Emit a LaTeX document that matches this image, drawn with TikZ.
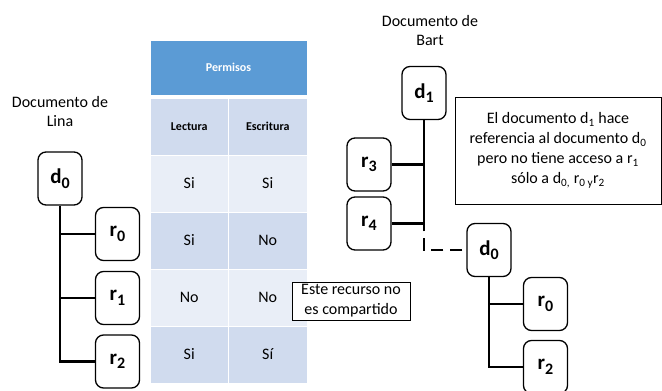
\documentclass[tikz,border=0pt]{standalone}
\usepackage{fontspec}
\setmainfont{Carlito}
\usetikzlibrary{positioning}
\definecolor{head}{HTML}{5B9BD5}
\definecolor{bandA}{HTML}{D0DBEE}
\definecolor{bandB}{HTML}{E9EEF7}

\begin{document}
\begin{tikzpicture}[x=1pt,y=-1pt]
\tikzset{doc/.style={draw,rounded corners=8pt,line width=1.3pt,minimum width=44pt,minimum height=53pt,inner sep=0pt,font=\fontsize{21}{24}\selectfont\bfseries},
	tree/.style={line width=2.6pt},
	cell/.style={draw=white,line width=1pt,minimum width=78.5pt,minimum height=57pt,inner sep=0pt},
	hdr/.style={font=\fontsize{12}{14}\selectfont\bfseries},
	val/.style={font=\fontsize{16}{19}\selectfont},
	note/.style={draw,fill=white,line width=0.8pt,align=center,inner sep=0pt,font=\fontsize{16}{20}\selectfont}}
\def\sb#1#2{#1\textsubscript{#2}}
\def\lbl#1#2{#1\raisebox{-4.5pt}{\fontsize{16}{16}\selectfont#2}}
\useasboundingbox(0,0)rectangle(662,391);

\node[cell,fill=head,minimum width=157pt,minimum height=55pt,text=white,hdr](perm) at (228.5,67.5) {Permisos};
\foreach \i/\a/\b/\c/\f in {1/Lectura/Escritura/bandA/hdr,2/Si/Si/bandB/val,3/Si/No/bandA/val,4/No/No/bandB/val,5/Si/Sí/bandA/val}{
	\node[cell,fill=\c,\f](lec\i) at (189.25,69.5+57*\i) {\a};
	\node[cell,fill=\c,\f](esc\i) at (267.75,69.5+57*\i) {\b};
}

\node[align=center,val](lina) at (60,112) {Documento de\\Lina};
\node[doc](dl) at (60,178.5) {\lbl{d}{0}};
\foreach \x/\y in {0/234,1/298,2/361.5}
	\node[doc](rl\x) at (117.5,\y) {\lbl{r}{\x}};
\draw[tree](dl.south)|-(rl2.west);
\foreach \x in {0,1}
	\draw[tree](dl.south|-rl\x)--(rl\x.west);

\node[align=center,val](bart) at (430,31) {Documento de\\Bart};
\node[doc](d1) at (424,93) {\lbl{d}{1}};
\node[doc](r3) at (369,164.5) {\lbl{r}{3}};
\node[doc](r4) at (369,223.5) {\lbl{r}{4}};
\node[doc](dr) at (489,250) {\lbl{d}{0}};
\node[doc](rr0) at (545.5,304) {\lbl{r}{0}};
\node[doc](rr2) at (545.5,367) {\lbl{r}{2}};
\coordinate(link) at (424,230);
\draw[tree](d1.south)--(link);
\foreach \x in {r3,r4}
	\draw[tree](d1.south|-\x)--(\x.east);
\draw[tree,line width=2.3pt,dash pattern=on 12pt off 7pt,dash phase=15pt](dr.west)-|(link);
\draw[tree](dr.south)|-(rr2.west);
\draw[tree](dr.south|-rr0)--(rr0.west);

\node[note,minimum width=118pt,minimum height=38pt](shared) at (351,301) {Este recurso no\\es compartido};
\node[note,minimum width=206pt,minimum height=107pt](refnote) at (558,150.5) {El documento \sb{d}{1} hace\\referencia al documento \sb{d}{0}\\pero no tiene acceso a \sb{r}{1}\\sólo a \sb{d}{0,} \sb{r}{0 y}\sb{r}{2}};
\end{tikzpicture}
\end{document}
